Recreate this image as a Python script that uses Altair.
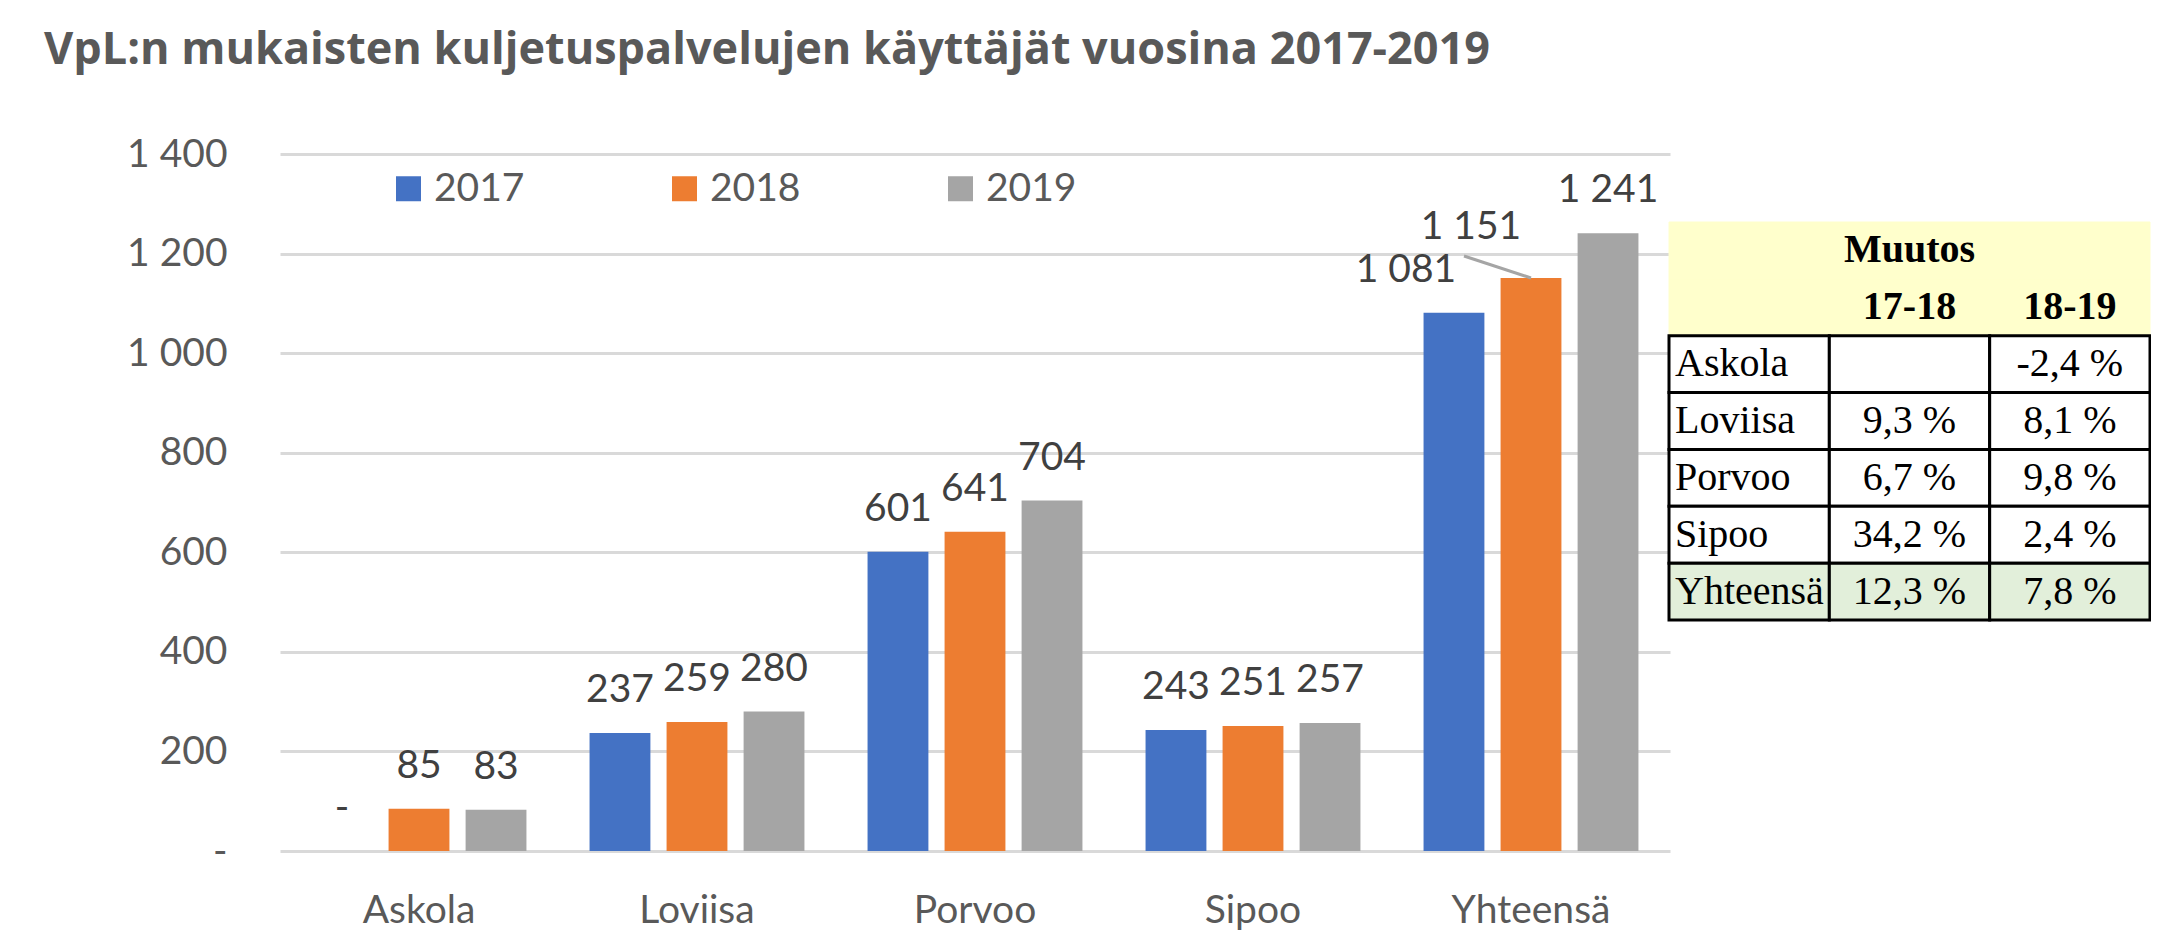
import altair as alt
import pandas as pd

# ---------------- data ----------------
categories = ["Askola", "Loviisa", "Porvoo", "Sipoo", "Yhteensä"]
years = ["2017", "2018", "2019"]
values_2017 = [0, 237, 601, 243, 1081]
values_2018 = [85, 259, 641, 251, 1151]
values_2019 = [83, 280, 704, 257, 1241]
y_ticks = [0, 200, 400, 600, 800, 1000, 1200, 1400]

table_title = "Muutos"
table_periods = ["17-18", "18-19"]
change_17_18 = ["", "9,3 %", "6,7 %", "34,2 %", "12,3 %"]
change_18_19 = ["-2,4 %", "8,1 %", "9,8 %", "2,4 %", "7,8 %"]

bar_colors = ["#4472C4", "#ED7D31", "#A5A5A5"]
title_text = "VpL:n mukaisten kuljetuspalvelujen käyttäjät vuosina 2017-2019"


def fmt(v):
    return "-" if v == 0 else f"{v:,}".replace(",", " ")


rows = []
for yr, vals in zip(years, [values_2017, values_2018, values_2019]):
    for c, v in zip(categories, vals):
        rows.append({"kunta": c, "vuosi": yr, "arvo": v, "teksti": fmt(v)})
df = pd.DataFrame(rows)

# table cells
n_rows = 2 + len(categories)
cells = []
for r in range(n_rows):
    for c in range(3):
        kind = "header" if r < 2 else ("total" if r == n_rows - 1 else "body")
        cells.append({"r": r, "c": c, "kind": kind})
cells_df = pd.DataFrame(cells)

texts = [{"r": 0, "c": 1, "t": table_title, "kind": "head"}]
for i, p in enumerate(table_periods):
    texts.append({"r": 1, "c": i + 1, "t": p, "kind": "head"})
for i, name in enumerate(categories):
    texts.append({"r": i + 2, "c": 0, "t": name, "kind": "name"})
    texts.append({"r": i + 2, "c": 1, "t": change_17_18[i], "kind": "val"})
    texts.append({"r": i + 2, "c": 2, "t": change_18_19[i], "kind": "val"})
texts_df = pd.DataFrame(texts)

# ---------------- bar chart ----------------
SANS = "Lato"
x_enc = alt.X(
    "kunta:N", sort=categories,
    scale=alt.Scale(paddingInner=0.227, paddingOuter=0.1135),
    axis=alt.Axis(title=None, labelAngle=0, labelFont=SANS, labelFontSize=39,
                  labelColor="#595959", labelPadding=40, domain=False, ticks=False),
)
xo_enc = alt.XOffset("vuosi:N", sort=years, scale=alt.Scale(paddingInner=0.21, paddingOuter=0))
y_enc = alt.Y(
    "arvo:Q",
    scale=alt.Scale(domain=[0, 1400], nice=False),
    axis=alt.Axis(title=None, values=y_ticks, grid=True, gridColor="#D9D9D9", gridWidth=3,
                  domain=False, ticks=False, labelPadding=53, labelFont=SANS,
                  labelFontSize=39, labelColor="#595959",
                  labelExpr="datum.value == 0 ? '-' : replace(format(datum.value, ','), ',', ' ')"),
)

base = alt.Chart(df)
bars = base.mark_bar().encode(
    x=x_enc, xOffset=xo_enc, y=y_enc,
    color=alt.Color(
        "vuosi:N", sort=years,
        scale=alt.Scale(domain=years, range=bar_colors),
        legend=alt.Legend(title=None, orient="none", legendX=109, legendY=15,
                          direction="horizontal", symbolType="square", symbolSize=625,
                          symbolStrokeWidth=0, labelFont=SANS, labelFontSize=39,
                          labelColor="#595959", columnPadding=140, labelOffset=6,
                          padding=0),
    ),
)

is_1081 = (alt.datum.kunta == "Yhteensä") & (alt.datum.vuosi == "2017")
is_1151 = (alt.datum.kunta == "Yhteensä") & (alt.datum.vuosi == "2018")

label_style = dict(font=SANS, fontSize=39, color="#404040", baseline="alphabetic")
labels = base.transform_filter(~(is_1081 | is_1151)).mark_text(dy=-31, **label_style).encode(
    x=x_enc, xOffset=xo_enc, y=y_enc, text="teksti:N")
label_1081 = base.transform_filter(is_1081).mark_text(dy=-31, dx=-48, **label_style).encode(
    x=x_enc, xOffset=xo_enc, y=y_enc, text="teksti:N")
label_1151 = base.transform_filter(is_1151).mark_text(dy=-39, dx=-60, **label_style).encode(
    x=x_enc, xOffset=xo_enc, y=y_enc, text="teksti:N")
leader = base.transform_filter(is_1151).mark_rule(
    color="#A5A5A5", strokeWidth=3, x2Offset=-67, y2Offset=-22).encode(
    x=x_enc, xOffset=xo_enc, y=y_enc, x2=alt.X2("kunta:N"), y2=alt.Y2("arvo:Q"))

main = alt.layer(bars, labels, label_1081, label_1151, leader)

# ---------------- table ----------------
tx = alt.X("c:O", scale=alt.Scale(domain=[0, 1, 2], range=[1389, 1870],
                                  paddingInner=0, paddingOuter=0), axis=None)
ty = alt.Y("r:O", scale=alt.Scale(domain=list(range(n_rows)), range=[68, 466],
                                  paddingInner=0, paddingOuter=0), axis=None)

cb = alt.Chart(cells_df)
head_rect = cb.transform_filter(alt.datum.kind == "header").mark_rect(
    fill="#FFFFCC", stroke="#FFFFCC", strokeWidth=1).encode(x=tx, y=ty)
body_rect = cb.transform_filter(alt.datum.kind == "body").mark_rect(
    fill="white", stroke="black", strokeWidth=3).encode(x=tx, y=ty)
total_rect = cb.transform_filter(alt.datum.kind == "total").mark_rect(
    fill="#E2EFDA", stroke="black", strokeWidth=3).encode(x=tx, y=ty)

SERIF = "Liberation Serif"
tb = alt.Chart(texts_df)
head_text = tb.transform_filter(alt.datum.kind == "head").mark_text(
    font=SERIF, fontSize=40, fontWeight="bold", color="black", baseline="middle").encode(
    x=tx, y=ty, text="t:N")
name_x = alt.X("c:O", bandPosition=0,
               scale=alt.Scale(domain=[0, 1, 2], range=[1389, 1870], paddingInner=0, paddingOuter=0),
               axis=None)
name_text = tb.transform_filter(alt.datum.kind == "name").mark_text(
    font=SERIF, fontSize=40, color="black", baseline="middle", align="left", dx=6).encode(
    x=name_x, y=ty, text="t:N")
val_text = tb.transform_filter(alt.datum.kind == "val").mark_text(
    font=SERIF, fontSize=40, color="black", baseline="middle").encode(
    x=tx, y=ty, text="t:N")

table = alt.layer(head_rect, body_rect, total_rect, head_text, name_text, val_text)

chart = alt.layer(main, table).resolve_scale(
    x="independent", y="independent"
).properties(
    width=1390, height=697,
    padding={"left": 272, "top": 146, "right": 481, "bottom": 84},
    autosize=alt.AutoSizeParams(type="none"),
    title=alt.Title(title_text, anchor="start", frame="group", dx=-236, offset=62,
                    font="Open Sans", fontSize=45, fontWeight="bold", color="#595959"),
).configure_view(stroke=None)

chart.save("out.html", embed_options={"renderer": "svg", "actions": False})
